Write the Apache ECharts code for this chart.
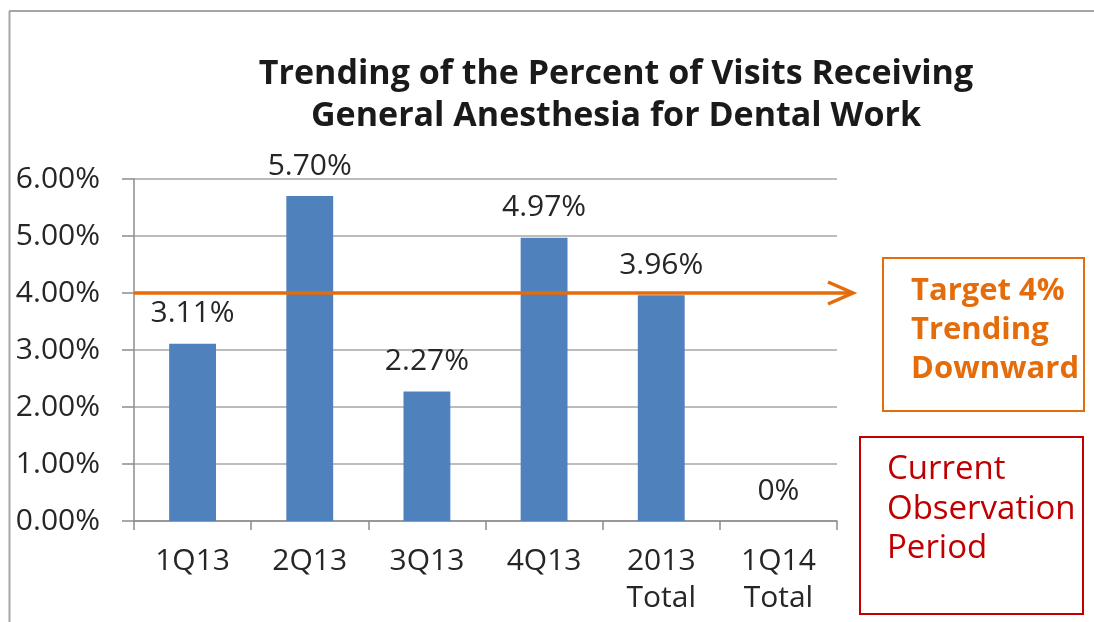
<!DOCTYPE html>
<html>
<head>
<meta charset="utf-8">
<script src="https://cdn.jsdelivr.net/npm/echarts@6/dist/echarts.min.js"></script>
<style>
  html, body { margin: 0; padding: 0; background: #fff; overflow: hidden; }
  #chart { width: 1094px; height: 622px; }
</style>
</head>
<body>
<div id="chart"></div>
<script>
// Quarterly share of dental visits that received general anesthesia
const categories = ['1Q13', '2Q13', '3Q13', '4Q13', '2013\nTotal', '1Q14\nTotal'];
const percentValues = [3.11, 5.70, 2.27, 4.97, 3.96, 0];
const yTicks = { min: 0, max: 6, interval: 1 };
const targetPercent = 4;

const titleLines = ['Trending of the Percent of Visits Receiving', 'General Anesthesia for Dental Work'];
const targetNote = ['Target 4%', 'Trending', 'Downward'];
const periodNote = ['Current', 'Observation', 'Period'];

const FONT = '"Open Sans", "Liberation Sans", sans-serif';
const ORANGE = '#E46C0A';
const RED = '#C00000';
const BLUE = '#4F81BD';
const TEXT = '#262626';

const chart = echarts.init(document.getElementById('chart'), null, { renderer: 'canvas' });

chart.setOption({
  animation: false,
  backgroundColor: '#ffffff',
  textStyle: { fontFamily: FONT },
  title: {
    text: titleLines.join('\n'),
    left: 611,
    top: 48,
    textAlign: 'center',
    textStyle: {
      fontFamily: FONT,
      fontWeight: 'bold',
      fontSize: 34,
      lineHeight: 42,
      color: '#1a1a1a'
    }
  },
  grid: { left: 134, right: 257, top: 179, bottom: 101, containLabel: false },
  xAxis: {
    type: 'category',
    data: categories,
    axisLine: { show: true, lineStyle: { color: '#8C8C8C', width: 1.5 } },
    axisTick: { show: true, length: 9, lineStyle: { color: '#8C8C8C', width: 1.5 } },
    axisLabel: {
      margin: 22,
      fontSize: 30,
      lineHeight: 37,
      color: TEXT,
      fontFamily: FONT
    },
    splitLine: { show: false }
  },
  yAxis: {
    type: 'value',
    min: yTicks.min,
    max: yTicks.max,
    interval: yTicks.interval,
    axisLine: { show: true, lineStyle: { color: '#8C8C8C', width: 1.5 } },
    axisTick: { show: true, length: 12, lineStyle: { color: '#8C8C8C', width: 1.5 } },
    axisLabel: {
      margin: 34,
      fontSize: 30,
      color: TEXT,
      fontFamily: FONT,
      formatter: v => v.toFixed(2) + '%'
    },
    splitLine: { show: true, lineStyle: { color: '#A6A6A6', width: 1.5 } }
  },
  series: [{
    type: 'bar',
    data: percentValues,
    barWidth: '40%',
    itemStyle: { color: BLUE },
    label: {
      show: true,
      position: 'top',
      distance: 15,
      fontSize: 30,
      color: TEXT,
      fontFamily: FONT,
      formatter: p => (p.value === 0 ? '0%' : p.value.toFixed(2) + '%')
    }
  }]
});

// Target line with open arrowhead, positioned from the y scale
const yTarget = chart.convertToPixel({ yAxisIndex: 0 }, targetPercent);
const xStart = chart.convertToPixel({ xAxisIndex: 0 }, categories[0])
  - (chart.convertToPixel({ xAxisIndex: 0 }, categories[1]) - chart.convertToPixel({ xAxisIndex: 0 }, categories[0])) / 2;
const xTip = 853;

function noteText(lines, x, y, lineH, color, weight, size) {
  return lines.map((t, i) => ({
    type: 'text',
    x: x,
    y: y + i * lineH,
    style: {
      text: t,
      fill: color,
      font: weight + ' ' + size + 'px ' + FONT,
      verticalAlign: 'middle'
    },
    z: 20
  }));
}

chart.setOption({
  graphic: [
    // outer frame (top and left edges)
    {
      type: 'line',
      shape: { x1: 9, y1: 11, x2: 1094, y2: 11 },
      style: { stroke: '#A6A6A6', lineWidth: 2 },
      z: 1
    },
    {
      type: 'line',
      shape: { x1: 9.5, y1: 11, x2: 9.5, y2: 622 },
      style: { stroke: '#A6A6A6', lineWidth: 2 },
      z: 1
    },
    {
      type: 'line',
      shape: { x1: xStart, y1: yTarget, x2: xTip, y2: yTarget },
      style: { stroke: ORANGE, lineWidth: 3.5 },
      z: 15
    },
    {
      type: 'polyline',
      shape: { points: [[xTip - 25, yTarget - 11], [xTip, yTarget], [xTip - 25, yTarget + 11]] },
      style: { stroke: ORANGE, lineWidth: 3.5, fill: 'none' },
      z: 15
    },
    {
      type: 'rect',
      shape: { x: 883, y: 258, width: 201, height: 153 },
      style: { fill: '#ffffff', stroke: ORANGE, lineWidth: 2 },
      z: 10
    },
    ...noteText(targetNote, 911, 291, 39, ORANGE, 'bold', 31),
    {
      type: 'rect',
      shape: { x: 860, y: 437, width: 223, height: 177 },
      style: { fill: '#ffffff', stroke: RED, lineWidth: 2 },
      z: 10
    },
    ...noteText(periodNote, 887, 470, 39.5, RED, 'normal', 33)
  ]
});
</script>
</body>
</html>
